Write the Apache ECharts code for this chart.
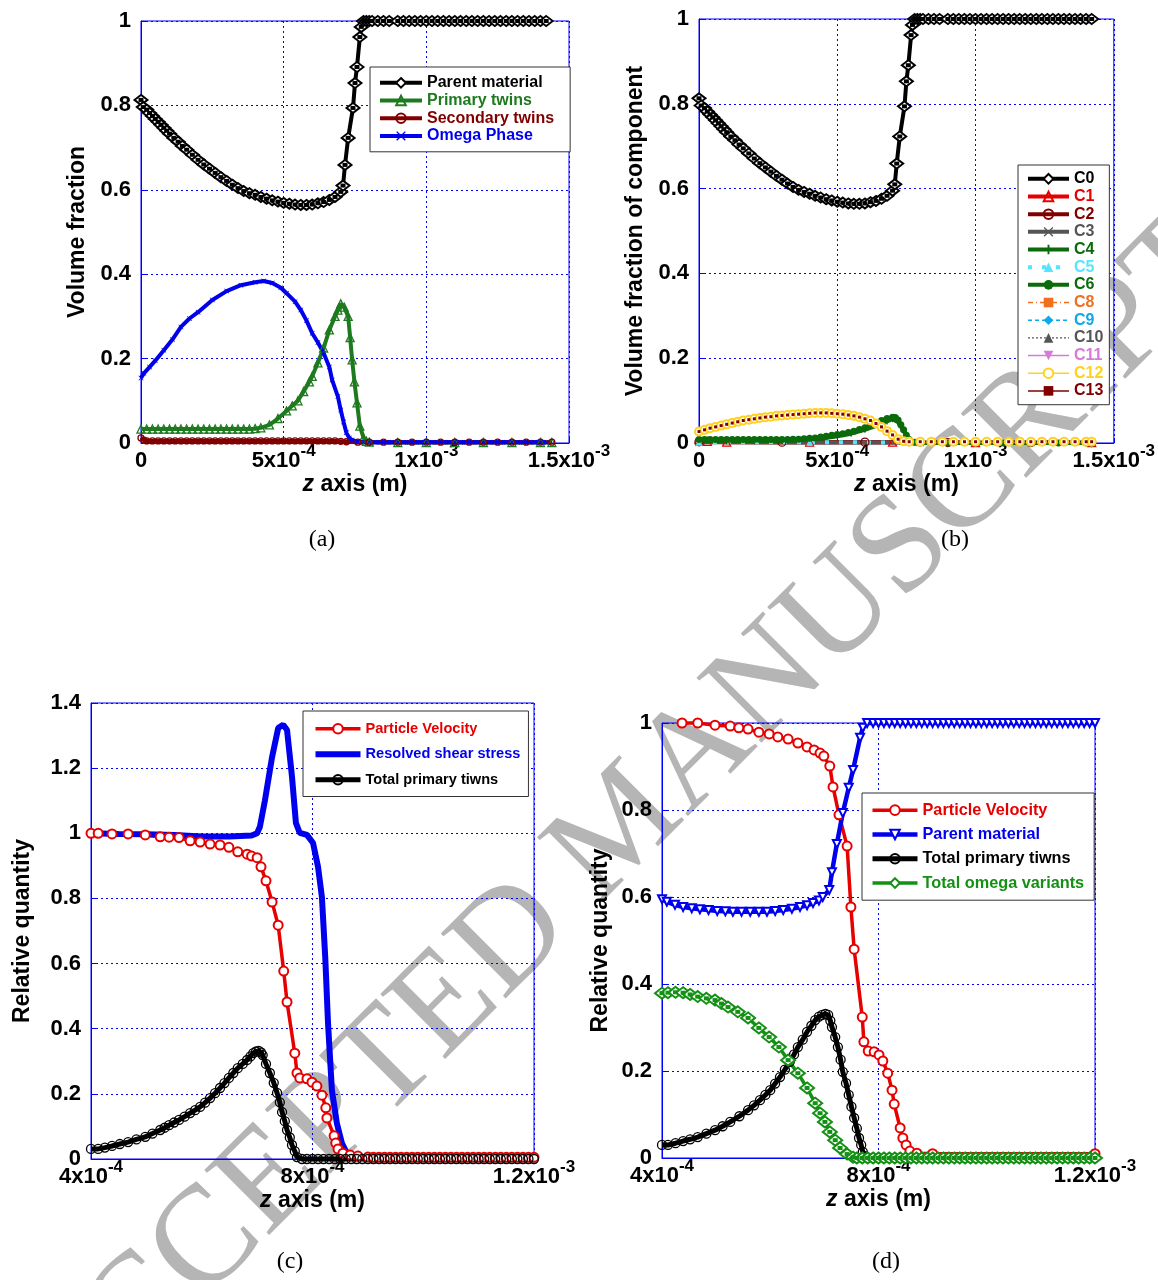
<!DOCTYPE html>
<html>
<head>
<meta charset="utf-8">
<script src="https://cdn.jsdelivr.net/npm/echarts@6/dist/echarts.min.js"></script>
<style>
  html, body { margin: 0; background: #fff; }
  #chart { width: 1158px; height: 1280px; }
</style>
</head>
<body>
<div id="chart"></div>
<script>
// ---- tick labels ----
const abTickVals = [0, 0.0005, 0.001, 0.0015];
const abTickMant = ['0', '5x10', '1x10', '1.5x10'];
const abTickExp = ['', '-4', '-3', '-3'];
const cdTickVals = [0.0004, 0.0008, 0.0012];
const cdTickMant = ['4x10', '8x10', '1.2x10'];
const cdTickExp = ['-4', '-4', '-3'];

// ---- panel (a) ----
const aParent = [[0,0.813],[0.000008,0.796],[0.00002,0.79],[0.00003,0.782],[0.00004,0.775],[0.00005,0.768],[0.00006,0.761],[0.00007,0.754],[0.00008,0.747],[0.00009,0.74],[0.0001,0.733],[0.000115,0.723],[0.00013,0.714],[0.000145,0.704],[0.00016,0.695],[0.00018,0.683],[0.0002,0.671],[0.00022,0.66],[0.00024,0.65],[0.00026,0.64],[0.00028,0.63],[0.0003,0.621],[0.00032,0.612],[0.00034,0.604],[0.00036,0.597],[0.00038,0.592],[0.0004,0.588],[0.00042,0.583],[0.00044,0.579],[0.00046,0.575],[0.00048,0.572],[0.0005,0.569],[0.00052,0.567],[0.00054,0.565],[0.00056,0.564],[0.00058,0.564],[0.0006,0.565],[0.00062,0.568],[0.00064,0.571],[0.00066,0.576],[0.00068,0.583],[0.0007,0.595],[0.000708,0.61],[0.000715,0.659],[0.000726,0.723],[0.000743,0.794],[0.00075,0.853],[0.000757,0.891],[0.000767,0.962],[0.000772,0.986],[0.00078,1],[0.00079,1],[0.0008,1],[0.00081,1],[0.00083,1],[0.00085,1],[0.00087,1],[0.0009,1],[0.00092,1],[0.00094,1],[0.00096,1],[0.00098,1],[0.001,1],[0.00102,1],[0.00104,1],[0.00106,1],[0.00108,1],[0.0011,1],[0.00112,1],[0.00114,1],[0.00116,1],[0.00118,1],[0.0012,1],[0.00122,1],[0.00124,1],[0.00126,1],[0.00128,1],[0.0013,1],[0.00132,1],[0.00134,1],[0.00136,1],[0.00138,1],[0.0014,1],[0.00142,1]];
const aTwins = [[0,0.033],[0.00002,0.033],[0.00004,0.033],[0.00006,0.033],[0.00008,0.033],[0.0001,0.033],[0.00012,0.033],[0.00014,0.033],[0.00016,0.033],[0.00018,0.033],[0.0002,0.033],[0.00022,0.033],[0.00024,0.033],[0.00026,0.033],[0.00028,0.033],[0.0003,0.033],[0.00032,0.033],[0.00034,0.033],[0.00036,0.033],[0.00038,0.033],[0.0004,0.034],[0.00042,0.036],[0.00045,0.043],[0.00048,0.058],[0.00051,0.076],[0.00053,0.088],[0.00055,0.1],[0.00057,0.122],[0.00059,0.145],[0.0006,0.158],[0.00062,0.19],[0.00064,0.225],[0.00066,0.268],[0.00068,0.3],[0.00069,0.315],[0.0007,0.33],[0.000712,0.322],[0.000726,0.3],[0.000733,0.25],[0.00074,0.197],[0.000748,0.145],[0.000757,0.095],[0.000767,0.04],[0.00078,0.012],[0.00079,0.004],[0.0008,0.002],[0.0009,0.001],[0.001,0.001],[0.0011,0.001],[0.0012,0.001],[0.0013,0.001],[0.0014,0.001],[0.00144,0.001]];
const aSecondary = [[0,0.012],[0.00001,0.007],[0.00002,0.005],[0.00004,0.005],[0.00006,0.005],[0.00008,0.005],[0.0001,0.005],[0.00012,0.005],[0.00014,0.005],[0.00016,0.005],[0.00018,0.005],[0.0002,0.005],[0.00022,0.005],[0.00024,0.005],[0.00026,0.005],[0.00028,0.005],[0.0003,0.005],[0.00032,0.005],[0.00034,0.005],[0.00036,0.005],[0.00038,0.005],[0.0004,0.005],[0.00042,0.005],[0.00044,0.005],[0.00046,0.005],[0.00048,0.005],[0.0005,0.005],[0.00052,0.005],[0.00054,0.005],[0.00056,0.005],[0.00058,0.005],[0.0006,0.005],[0.00062,0.005],[0.00064,0.005],[0.00066,0.005],[0.00068,0.005],[0.0007,0.004],[0.00072,0.003],[0.00076,0.002],[0.0008,0.002],[0.00085,0.002],[0.0009,0.002],[0.00095,0.002],[0.001,0.002],[0.00105,0.002],[0.0011,0.002],[0.00115,0.002],[0.0012,0.002],[0.00125,0.002],[0.0013,0.002],[0.00135,0.002],[0.0014,0.002],[0.00144,0.002]];
const aOmega = [[0,0.154],[0.00001,0.165],[0.00003,0.18],[0.00005,0.195],[0.00008,0.22],[0.00011,0.245],[0.00014,0.275],[0.00017,0.295],[0.0002,0.31],[0.00025,0.339],[0.0003,0.36],[0.00035,0.374],[0.0004,0.381],[0.00043,0.384],[0.00046,0.379],[0.00049,0.368],[0.00051,0.355],[0.00054,0.335],[0.00056,0.315],[0.00058,0.29],[0.0006,0.26],[0.00062,0.238],[0.00064,0.213],[0.00066,0.18],[0.00067,0.149],[0.00069,0.11],[0.0007,0.078],[0.00071,0.05],[0.00072,0.024],[0.00073,0.012],[0.00074,0.007],[0.00076,0.003],[0.00078,0.002],[0.0008,0.002],[0.00082,0.002],[0.00084,0.002],[0.00086,0.002],[0.00088,0.002],[0.0009,0.002],[0.00092,0.002],[0.00094,0.002],[0.00096,0.002],[0.00098,0.002],[0.001,0.002],[0.00102,0.002],[0.00104,0.002],[0.00106,0.002],[0.00108,0.002],[0.0011,0.002],[0.00112,0.002],[0.00114,0.002],[0.00116,0.002],[0.00118,0.002],[0.0012,0.002],[0.00122,0.002],[0.00124,0.002],[0.00126,0.002],[0.00128,0.002],[0.0013,0.002],[0.00132,0.002],[0.00134,0.002],[0.00136,0.002],[0.00138,0.002],[0.0014,0.002],[0.00142,0.002]];

// ---- panel (b) ----
const bC0 = aParent;
const bC1 = [[0,0.008],[0.00003,0.004],[0.0001,0.002],[0.0004,0.002],[0.0007,0.002],[0.001,0.001],[0.00142,0.001]];
const bC2 = [[0,0.003],[0.0003,0.002],[0.0006,0.002],[0.0009,0.001],[0.0012,0.001],[0.00142,0.001]];
const bC3 = [[0,0.002],[0.0004,0.001],[0.0008,0.001],[0.0012,0.001],[0.00142,0.001]];
const bC4 = [[0,0.004],[0.0001,0.004],[0.0002,0.004],[0.0003,0.005],[0.0004,0.008],[0.00045,0.011],[0.0005,0.016],[0.00055,0.022],[0.0006,0.031],[0.00065,0.043],[0.00068,0.051],[0.0007,0.056],[0.00072,0.049],[0.00074,0.028],[0.00076,0.007],[0.00078,0.001],[0.001,0],[0.0012,0],[0.00142,0]];
const bC5 = [[0,0.002],[0.0004,0.002],[0.0008,0.001],[0.0012,0.001],[0.00142,0.001]];
const bC6 = [[0,0.008],[0.00002,0.008],[0.00004,0.008],[0.00006,0.008],[0.00008,0.008],[0.0001,0.008],[0.00012,0.008],[0.00014,0.008],[0.00016,0.008],[0.00018,0.008],[0.0002,0.008],[0.00022,0.008],[0.00024,0.008],[0.00026,0.008],[0.00028,0.008],[0.0003,0.008],[0.00032,0.008],[0.00034,0.009],[0.00036,0.009],[0.00038,0.01],[0.0004,0.011],[0.00042,0.012],[0.00044,0.014],[0.00046,0.016],[0.00048,0.018],[0.0005,0.02],[0.00052,0.022],[0.00054,0.025],[0.00056,0.028],[0.00058,0.032],[0.0006,0.036],[0.00062,0.041],[0.00064,0.047],[0.00066,0.053],[0.00068,0.058],[0.0007,0.061],[0.00071,0.06],[0.00072,0.054],[0.00073,0.043],[0.00074,0.031],[0.00075,0.018],[0.00076,0.008],[0.00078,0.002],[0.0008,0],[0.0009,0],[0.001,0],[0.0011,0],[0.0012,0],[0.0013,0],[0.0014,0],[0.00142,0]];
const bVariant = [[0,0.027],[0.00002,0.031],[0.00004,0.035],[0.00006,0.038],[0.00008,0.041],[0.0001,0.044],[0.00012,0.047],[0.00014,0.05],[0.00016,0.053],[0.00018,0.055],[0.0002,0.057],[0.00022,0.059],[0.00024,0.061],[0.00026,0.062],[0.00028,0.064],[0.0003,0.065],[0.00032,0.066],[0.00034,0.067],[0.00036,0.068],[0.00038,0.069],[0.0004,0.07],[0.00042,0.071],[0.00044,0.071],[0.00046,0.071],[0.00048,0.07],[0.0005,0.069],[0.00052,0.068],[0.00054,0.066],[0.00056,0.064],[0.00058,0.061],[0.0006,0.057],[0.00062,0.053],[0.00064,0.046],[0.00066,0.038],[0.00068,0.028],[0.0007,0.019],[0.00072,0.009],[0.00074,0.004],[0.00076,0.003],[0.0008,0.003],[0.00084,0.003],[0.00088,0.003],[0.00092,0.003],[0.00096,0.003],[0.001,0.003],[0.00104,0.003],[0.00108,0.003],[0.00112,0.003],[0.00116,0.003],[0.0012,0.003],[0.00124,0.003],[0.00128,0.003],[0.00132,0.003],[0.00136,0.003],[0.0014,0.003],[0.00142,0.003]];

// ---- panel (c) ----
const cVelocity = [[0.0004,1.0],[0.000413,1.0],[0.000438,0.998],[0.000467,0.998],[0.000498,0.995],[0.000525,0.989],[0.000541,0.988],[0.000559,0.987],[0.000579,0.977],[0.000597,0.973],[0.000615,0.967],[0.000633,0.964],[0.000649,0.957],[0.000665,0.943],[0.000682,0.936],[0.00069,0.93],[0.0007,0.925],[0.000707,0.897],[0.000716,0.854],[0.000727,0.789],[0.000738,0.718],[0.000748,0.577],[0.000754,0.482],[0.000768,0.325],[0.000772,0.264],[0.000777,0.249],[0.00079,0.246],[0.000799,0.236],[0.000808,0.224],[0.000817,0.196],[0.000824,0.157],[0.000826,0.126],[0.000839,0.071],[0.000842,0.049],[0.000846,0.031],[0.000855,0.018],[0.000868,0.012],[0.000882,0.009],[0.0009,0.006],[0.00091,0.005],[0.00092,0.005],[0.00093,0.005],[0.00094,0.005],[0.00095,0.005],[0.00096,0.005],[0.00097,0.005],[0.00098,0.005],[0.00099,0.005],[0.001,0.005],[0.00101,0.005],[0.00102,0.005],[0.00103,0.005],[0.00104,0.005],[0.00105,0.005],[0.00106,0.005],[0.00107,0.005],[0.00108,0.005],[0.00109,0.005],[0.0011,0.005],[0.00111,0.005],[0.00112,0.005],[0.00113,0.005],[0.00114,0.005],[0.00115,0.005],[0.00116,0.005],[0.00117,0.005],[0.00118,0.005],[0.00119,0.005],[0.0012,0.005]];
const cShear = [[0.0004,1.0],[0.00045,0.998],[0.0005,0.997],[0.00055,0.995],[0.0006,0.99],[0.00065,0.99],[0.00069,0.993],[0.0007,1.0],[0.000705,1.02],[0.000714,1.1],[0.000727,1.234],[0.000738,1.323],[0.000747,1.333],[0.000754,1.317],[0.000763,1.173],[0.00077,1.032],[0.000777,1.001],[0.00079,0.995],[0.000801,0.97],[0.00081,0.897],[0.000817,0.804],[0.000823,0.62],[0.000828,0.418],[0.000835,0.212],[0.000844,0.11],[0.000853,0.049],[0.000862,0.018],[0.00088,0.006],[0.0009,0.002],[0.0012,0.002]];
const cTwins = [[0.0004,0.031],[0.000413,0.031],[0.000425,0.035],[0.000438,0.04],[0.000452,0.046],[0.000467,0.052],[0.000482,0.06],[0.000498,0.068],[0.000511,0.078],[0.000525,0.089],[0.000533,0.096],[0.000541,0.104],[0.00055,0.112],[0.000559,0.12],[0.000569,0.13],[0.000579,0.141],[0.000588,0.15],[0.000597,0.16],[0.000606,0.173],[0.000615,0.187],[0.000624,0.202],[0.000633,0.218],[0.000641,0.233],[0.000649,0.249],[0.000657,0.264],[0.000665,0.279],[0.000674,0.292],[0.000682,0.304],[0.000688,0.315],[0.000693,0.325],[0.000698,0.33],[0.000703,0.332],[0.000707,0.327],[0.00071,0.319],[0.000716,0.292],[0.000723,0.264],[0.00073,0.234],[0.000736,0.203],[0.000741,0.174],[0.000745,0.144],[0.00075,0.116],[0.000754,0.089],[0.000759,0.066],[0.000763,0.043],[0.000768,0.024],[0.000772,0.006],[0.000781,0],[0.00079,0],[0.0008,0],[0.00081,0],[0.00082,0],[0.00083,0],[0.00084,0],[0.00085,0],[0.00086,0],[0.00087,0],[0.00088,0],[0.00089,0],[0.0009,0],[0.00091,0],[0.00092,0],[0.00093,0],[0.00094,0],[0.00095,0],[0.00096,0],[0.00097,0],[0.00098,0],[0.00099,0],[0.001,0],[0.00101,0],[0.00102,0],[0.00103,0],[0.00104,0],[0.00105,0],[0.00106,0],[0.00107,0],[0.00108,0],[0.00109,0],[0.0011,0],[0.00111,0],[0.00112,0],[0.00113,0],[0.00114,0],[0.00115,0],[0.00116,0],[0.00117,0],[0.00118,0],[0.00119,0],[0.0012,0]];

// ---- panel (d) ----
const dVelocity = [[0.000437,1.0],[0.000466,1.0],[0.000498,0.995],[0.000526,0.993],[0.000542,0.989],[0.000559,0.986],[0.000579,0.979],[0.000598,0.975],[0.000614,0.968],[0.000633,0.963],[0.000651,0.954],[0.000668,0.945],[0.000681,0.938],[0.000692,0.931],[0.000699,0.924],[0.00071,0.901],[0.000716,0.853],[0.000727,0.789],[0.000742,0.717],[0.000749,0.577],[0.000755,0.48],[0.00077,0.324],[0.000773,0.267],[0.000781,0.246],[0.000792,0.244],[0.000801,0.237],[0.000808,0.223],[0.000817,0.195],[0.000825,0.156],[0.000829,0.124],[0.00084,0.069],[0.000845,0.046],[0.000851,0.03],[0.000858,0.016],[0.000871,0.011],[0.0009,0.01],[0.0012,0.01]];
const dParent = [[0.0004,0.595],[0.000409,0.589],[0.000424,0.582],[0.000439,0.577],[0.000455,0.574],[0.00047,0.572],[0.000486,0.57],[0.000502,0.568],[0.000517,0.567],[0.000531,0.566],[0.000547,0.566],[0.000563,0.566],[0.000579,0.566],[0.000594,0.566],[0.000609,0.568],[0.000624,0.57],[0.00064,0.573],[0.000655,0.577],[0.000668,0.581],[0.000679,0.586],[0.00069,0.592],[0.000697,0.6],[0.000709,0.616],[0.000714,0.657],[0.000723,0.722],[0.000734,0.793],[0.000745,0.851],[0.000753,0.892],[0.000766,0.966],[0.000771,0.989],[0.000779,1],[0.00079,1],[0.0008,1],[0.00081,1],[0.00082,1],[0.00083,1],[0.00084,1],[0.00085,1],[0.00086,1],[0.00087,1],[0.00088,1],[0.00089,1],[0.0009,1],[0.00091,1],[0.00092,1],[0.00093,1],[0.00094,1],[0.00095,1],[0.00096,1],[0.00097,1],[0.00098,1],[0.00099,1],[0.001,1],[0.00101,1],[0.00102,1],[0.00103,1],[0.00104,1],[0.00105,1],[0.00106,1],[0.00107,1],[0.00108,1],[0.00109,1],[0.0011,1],[0.00111,1],[0.00112,1],[0.00113,1],[0.00114,1],[0.00115,1],[0.00116,1],[0.00117,1],[0.00118,1],[0.00119,1],[0.0012,1]];
const dTwins = [[0.0004,0.03],[0.000411,0.03],[0.000425,0.034],[0.000439,0.039],[0.000452,0.043],[0.000466,0.048],[0.000482,0.056],[0.000498,0.064],[0.000512,0.073],[0.000526,0.083],[0.000543,0.096],[0.000559,0.11],[0.00057,0.121],[0.000581,0.133],[0.000591,0.145],[0.0006,0.156],[0.000609,0.171],[0.000618,0.186],[0.000627,0.203],[0.000636,0.221],[0.000644,0.238],[0.000651,0.255],[0.00066,0.272],[0.000668,0.29],[0.000676,0.304],[0.000683,0.317],[0.00069,0.325],[0.000696,0.329],[0.000702,0.331],[0.000707,0.329],[0.000711,0.316],[0.000714,0.301],[0.00072,0.278],[0.000725,0.255],[0.00073,0.226],[0.000734,0.198],[0.00074,0.172],[0.000745,0.145],[0.00075,0.118],[0.000755,0.092],[0.00076,0.068],[0.000764,0.046],[0.000768,0.03],[0.000771,0.014],[0.000775,0.004]];
const dOmega = [[0.0004,0.379],[0.000411,0.38],[0.000425,0.381],[0.000439,0.38],[0.000452,0.376],[0.000466,0.371],[0.000482,0.367],[0.000498,0.363],[0.00051,0.355],[0.000522,0.347],[0.00054,0.336],[0.000559,0.322],[0.000579,0.299],[0.000598,0.278],[0.000616,0.255],[0.000633,0.225],[0.000651,0.195],[0.000668,0.161],[0.000683,0.126],[0.000692,0.103],[0.000701,0.083],[0.00071,0.06],[0.00072,0.041],[0.000729,0.023],[0.000742,0.009],[0.000753,0.002],[0.00076,0],[0.00077,0],[0.00078,0],[0.00079,0],[0.0008,0],[0.00081,0],[0.00082,0],[0.00083,0],[0.00084,0],[0.00085,0],[0.00086,0],[0.00087,0],[0.00088,0],[0.00089,0],[0.0009,0],[0.00091,0],[0.00092,0],[0.00093,0],[0.00094,0],[0.00095,0],[0.00096,0],[0.00097,0],[0.00098,0],[0.00099,0],[0.001,0],[0.00101,0],[0.00102,0],[0.00103,0],[0.00104,0],[0.00105,0],[0.00106,0],[0.00107,0],[0.00108,0],[0.00109,0],[0.0011,0],[0.00111,0],[0.00112,0],[0.00113,0],[0.00114,0],[0.00115,0],[0.00116,0],[0.00117,0],[0.00118,0],[0.00119,0],[0.0012,0]];

// ---- styling ----
const FONT = '"Liberation Sans", Arial, sans-serif';
const SERIF = '"Liberation Serif", "Times New Roman", serif';
const BLUE = '#0000ff';
const SYM_X = 'path://M0,1L1,0L5,4L9,0L10,1L6,5L10,9L9,10L5,6L1,10L0,9L4,5Z';
const SYM_PLUS = 'path://M4,0L6,0L6,4L10,4L10,6L6,6L6,10L4,10L4,6L0,6L0,4L4,4Z';
const BAR_ICON = 'path://M0,0L45,0L45,6L0,6Z';

function makeXAxis(gi, min, max, interval, vals, mant, exps) {
  const lookup = {};
  vals.forEach((v, i) => { lookup[Math.round(v * 1e5)] = i; });
  return {
    type: 'value', gridIndex: gi, min: min, max: max, interval: interval,
    name: '{i|z} axis (m)', nameLocation: 'middle', nameGap: 29,
    nameTextStyle: {
      fontFamily: FONT, fontWeight: 'bold', fontSize: 23, color: '#000',
      rich: { i: { fontFamily: FONT, fontStyle: 'italic', fontWeight: 'bold', fontSize: 23, color: '#000' } }
    },
    axisLine: { lineStyle: { color: BLUE, width: 1 } },
    axisTick: { inside: true, length: 5, lineStyle: { color: BLUE } },
    splitLine: { show: true, lineStyle: { color: BLUE, type: [2, 3], width: 1 } },
    axisLabel: {
      margin: 0, color: '#000',
      formatter: function (v) {
        const i = lookup[Math.round(v * 1e5)];
        if (i === undefined) return '';
        return exps[i] ? '{m|' + mant[i] + '}{e|' + exps[i] + '}' : '{m|' + mant[i] + '}';
      },
      rich: {
        m: { fontFamily: FONT, fontWeight: 'bold', fontSize: 22, lineHeight: 36, color: '#000' },
        e: { fontFamily: FONT, fontWeight: 'bold', fontSize: 17, lineHeight: 17, verticalAlign: 'top', color: '#000' }
      }
    }
  };
}

function makeYAxis(gi, max, name, gap) {
  return {
    type: 'value', gridIndex: gi, min: 0, max: max, interval: 0.2,
    name: name, nameLocation: 'middle', nameGap: gap, nameRotate: 90,
    nameTextStyle: { fontFamily: FONT, fontWeight: 'bold', fontSize: 23, color: '#000' },
    axisLine: { lineStyle: { color: BLUE, width: 1 } },
    axisTick: { inside: true, length: 5, lineStyle: { color: BLUE } },
    splitLine: { show: true, lineStyle: { color: BLUE, type: [2, 3], width: 1 } },
    axisLabel: { margin: 10, color: '#000', fontFamily: FONT, fontWeight: 'bold', fontSize: 22 }
  };
}

function line(name, data, gi, color, width, symbol, size, extra) {
  return Object.assign({
    type: 'line', name: name, data: data, xAxisIndex: gi, yAxisIndex: gi,
    color: color, showSymbol: true, showAllSymbol: true,
    symbol: symbol, symbolSize: size,
    lineStyle: { width: width, color: color },
    itemStyle: { color: color, borderWidth: 1.3 },
    animation: false, silent: true, clip: false
  }, extra || {});
}

// hollow marker: the line stays visible through it
function hollow(color) {
  return { itemStyle: { color: 'rgba(0,0,0,0)', borderColor: color, borderWidth: 1.3 } };
}

// small filled squares drawn on top of diamond markers (no line)
function squares(id, data, gi, color) {
  return {
    type: 'line', name: id, data: data, xAxisIndex: gi, yAxisIndex: gi,
    showSymbol: true, showAllSymbol: true, symbol: 'rect', symbolSize: [5, 4],
    lineStyle: { opacity: 0 }, itemStyle: { color: color },
    animation: false, silent: true, clip: false
  };
}

function legendBox(left, top, padding, lineH, fontSize, itemWidth, items) {
  return {
    orient: 'vertical', left: left, top: top, padding: padding,
    itemGap: 0, itemWidth: itemWidth, itemHeight: 12,
    backgroundColor: '#fff', borderColor: '#333', borderWidth: 1,
    selectedMode: false,
    formatter: n => n.trim(),
    textStyle: { fontFamily: FONT, fontWeight: 'bold', fontSize: fontSize, lineHeight: lineH },
    data: items.map(it => {
      const d = { name: it[0], textStyle: { color: it[1] }, lineStyle: { width: it[2] } };
      if (it[3]) d.icon = it[3];
      return d;
    })
  };
}

const RED = '#e60000';
const DBLUE = '#0000ee';
const DRED = '#800000';
const GREEN_A = '#1e7a1e';
const GREEN_B = '#0b6b0b';
const GREEN_D = '#149014';

const series = [
  // (a)
  line('Parent material', aParent, 0, '#000', 4, 'emptyDiamond', [13, 10]),
  squares('_a_sq', aParent, 0, '#000'),
  line('Primary twins', aTwins, 0, GREEN_A, 4, 'triangle', 8, hollow(GREEN_A)),
  line('Secondary twins', aSecondary, 0, DRED, 4, 'circle', 6, hollow(DRED)),
  line('Omega Phase', aOmega, 0, DBLUE, 4, SYM_X, 5),
  // (b)
  line('C0', bC0, 1, '#000', 4, 'emptyDiamond', [13, 10]),
  squares('_b_sq', bC0, 1, '#000'),
  line('C1', bC1, 1, RED, 4, 'triangle', 8, hollow(RED)),
  line('C2', bC2, 1, DRED, 4, 'circle', 8, hollow(DRED)),
  line('C3', bC3, 1, '#555', 4, SYM_X, 8),
  line('C4', bC4, 1, GREEN_B, 4, SYM_PLUS, 6),
  line('C5', bC5, 1, '#55e5ff', 4, 'triangle', 7, { lineStyle: { width: 4, color: '#55e5ff', type: [4, 10] } }),
  line('C6', bC6, 1, GREEN_B, 4, 'circle', 7),
  line('C8', bVariant, 1, '#f07020', 1.5, 'rect', 7, { lineStyle: { width: 1.5, color: '#f07020', type: [5, 3, 1, 3] } }),
  line('C9', bVariant, 1, '#10a8e8', 1.5, 'diamond', 7, { lineStyle: { width: 1.5, color: '#10a8e8', type: [4, 3] } }),
  line('C10', bVariant, 1, '#555', 1.2, 'triangle', 7, { lineStyle: { width: 1.2, color: '#555', type: [2, 2] } }),
  line('C11', bVariant, 1, '#d878d8', 1.5, 'triangle', 7, { symbolRotate: 180 }),
  line('C12', bVariant, 1, '#ffd21f', 1.5, 'emptyCircle', 8),
  line('C13', bVariant, 1, DRED, 1.5, 'rect', 3),
  // (c)
  line('Particle Velocity', cVelocity, 2, RED, 3.5, 'emptyCircle', 9),
  line('Resolved shear stress', cShear, 2, DBLUE, 6, 'none', 0),
  line('Total primary tiwns', cTwins, 2, '#000', 5, 'circle', 9, hollow('#000')),
  // (d)
  line('Particle Velocity ', dVelocity, 3, RED, 3.5, 'emptyCircle', 9),
  line('Parent material ', dParent, 3, DBLUE, 4.5, 'emptyTriangle', 8, { symbolRotate: 180 }),
  line('Total primary tiwns ', dTwins, 3, '#000', 5, 'circle', 9, hollow('#000')),
  line('Total omega variants', dOmega, 3, GREEN_D, 3.5, 'emptyDiamond', [14, 11]),
  squares('_d_sq', dOmega, 3, GREEN_D)
];

const chart = echarts.init(document.getElementById('chart'), null, { renderer: 'canvas' });
chart.setOption({
  backgroundColor: '#fff',
  animation: false,
  grid: [
    { left: 141, top: 21, width: 428, height: 422, show: true, borderColor: BLUE, borderWidth: 1 },
    { left: 699, top: 19, width: 417, height: 424, show: true, borderColor: BLUE, borderWidth: 1 },
    { left: 91, top: 703, width: 443, height: 456, show: true, borderColor: BLUE, borderWidth: 1 },
    { left: 662, top: 723, width: 433, height: 435, show: true, borderColor: BLUE, borderWidth: 1 }
  ],
  xAxis: [
    makeXAxis(0, 0, 0.0015, 0.0005, abTickVals, abTickMant, abTickExp),
    makeXAxis(1, 0, 0.0015, 0.0005, abTickVals, abTickMant, abTickExp),
    makeXAxis(2, 0.0004, 0.0012, 0.0004, cdTickVals, cdTickMant, cdTickExp),
    makeXAxis(3, 0.0004, 0.0012, 0.0004, cdTickVals, cdTickMant, cdTickExp)
  ],
  yAxis: [
    makeYAxis(0, 1, 'Volume fraction', 52),
    makeYAxis(1, 1, 'Volume fraction of component', 52),
    makeYAxis(2, 1.4, 'Relative quantity', 57),
    makeYAxis(3, 1, 'Relative quantity', 50)
  ],
  legend: [
    legendBox(370, 67, [7, 16, 7, 8], 17.7, 16, 42, [
      ['Parent material', '#000', 4], ['Primary twins', GREEN_A, 4], ['Secondary twins', DRED, 4], ['Omega Phase', DBLUE, 4]
    ]),
    legendBox(1018, 165, [5, 6, 5, 8], 17.67, 16, 41, [
      ['C0', '#000', 4], ['C1', RED, 4], ['C2', DRED, 4], ['C3', '#555', 4], ['C4', GREEN_B, 4], ['C5', '#55e5ff', 4], ['C6', GREEN_B, 4],
      ['C8', '#f07020', 1.5], ['C9', '#10a8e8', 1.5], ['C10', '#555', 1.2], ['C11', '#d878d8', 1.5], ['C12', '#ffd21f', 1.5], ['C13', DRED, 1.5]
    ]),
    legendBox(303, 711, [5, 8, 4, 10], 25.5, 14.6, 45, [
      ['Particle Velocity', RED, 3.5], ['Resolved shear stress', DBLUE, 6, BAR_ICON], ['Total primary tiwns', '#000', 5]
    ]),
    legendBox(862, 793, [5, 10, 5, 8], 24.3, 16.3, 45, [
      ['Particle Velocity ', RED, 3.5], ['Parent material ', DBLUE, 4.5], ['Total primary tiwns ', '#000', 5], ['Total omega variants', GREEN_D, 3.5]
    ])
  ],
  graphic: [
    { type: 'text', z: -1, x: 624, y: 828, rotation: Math.PI / 4,
      style: { text: 'ACCEPTED MANUSCRIPT', font: '140px ' + SERIF, fill: '#b5b5b5', align: 'center', verticalAlign: 'middle' } },
    { type: 'text', x: 322, y: 540, style: { text: '(a)', font: '24px ' + SERIF, fill: '#000', align: 'center', verticalAlign: 'middle' } },
    { type: 'text', x: 955, y: 540, style: { text: '(b)', font: '24px ' + SERIF, fill: '#000', align: 'center', verticalAlign: 'middle' } },
    { type: 'text', x: 290, y: 1262, style: { text: '(c)', font: '24px ' + SERIF, fill: '#000', align: 'center', verticalAlign: 'middle' } },
    { type: 'text', x: 886, y: 1262, style: { text: '(d)', font: '24px ' + SERIF, fill: '#000', align: 'center', verticalAlign: 'middle' } }
  ],
  series: series
});
</script>
</body>
</html>
